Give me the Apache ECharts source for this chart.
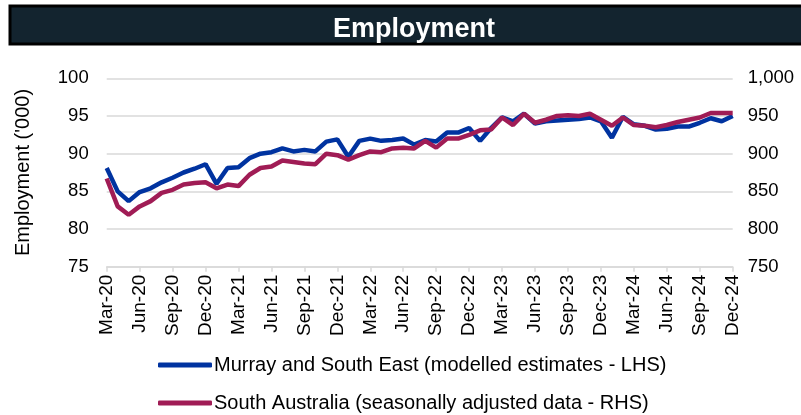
<!DOCTYPE html>
<html>
<head>
<meta charset="utf-8">
<script src="https://cdn.jsdelivr.net/npm/echarts@6/dist/echarts.min.js"></script>
<style>
html, body { margin: 0; padding: 0; background: #fff; }
#chart { width: 801px; height: 415px; }
</style>
</head>
<body>
<div id="chart"></div>
<script>
// months Mar-20 .. Dec-24
var monthNames = ['Jan', 'Feb', 'Mar', 'Apr', 'May', 'Jun', 'Jul', 'Aug', 'Sep', 'Oct', 'Nov', 'Dec'];
var categories = [];
for (var y = 20; y <= 24; y++) {
    for (var m = 0; m < 12; m++) {
        if (y === 20 && m < 2) continue;
        categories.push(monthNames[m] + '-' + y);
    }
}

// Murray and South East, '000 (LHS)
var murraySE = [
    88.1, 85.0, 83.7, 84.9, 85.4, 86.2, 86.8, 87.5, 88.0, 88.6,
    86.0, 88.1, 88.2, 89.4, 90.0, 90.2, 90.7, 90.3, 90.5, 90.3,
    91.6, 91.9, 89.6, 91.7, 92.0, 91.7, 91.8, 92.0, 91.2, 91.8,
    91.6, 92.8, 92.8, 93.4, 91.7, 93.4, 94.8, 94.3, 95.3, 94.0,
    94.3, 94.4, 94.5, 94.6, 94.8, 94.3, 92.1, 94.9, 93.9, 93.7,
    93.2, 93.3, 93.6, 93.6, 94.1, 94.7, 94.3, 95.0
];

// South Australia, '000 (RHS)
var southAus = [
    867, 830, 819, 830, 837, 848, 852, 859, 861, 862,
    854, 859, 857, 872, 881, 883, 891, 889, 887, 886,
    900, 898, 892, 898, 903, 902, 907, 908, 907, 917,
    908, 920, 920, 925, 931, 932, 948, 938, 953, 941,
    945, 950, 951, 950, 953, 945, 937, 948, 938, 937,
    935, 938, 942, 945, 948, 954, 954, 954
];

var leftTicks = { min: 75, max: 100, step: 5 };
var rightTicks = { min: 750, max: 1000, step: 50 };

var chart = echarts.init(document.getElementById('chart'));

var font = 'Liberation Sans, Arial, sans-serif';

chart.setOption({
    animation: false,
    textStyle: { fontFamily: font },
    graphic: [{
        type: 'rect',
        shape: { x: 10, y: 6, width: 795, height: 38 },
        style: { fill: '#13242f', stroke: '#000', lineWidth: 3 }
    }],
    title: {
        text: 'Employment',
        left: 409,
        top: 25,
        textAlign: 'center',
        textVerticalAlign: 'middle',
        textStyle: { color: '#fff', fontSize: 27, fontWeight: 'bold', fontFamily: font }
    },
    legend: [{
        data: ['Murray and South East (modelled estimates - LHS)'],
        left: 153,
        top: 350,
        icon: 'roundRect',
        itemWidth: 54,
        itemHeight: 5,
        textStyle: { fontSize: 20, color: '#000', padding: [0, 0, 0, -3] }
    }, {
        data: ['South Australia (seasonally adjusted data - RHS)'],
        left: 153,
        top: 388,
        icon: 'roundRect',
        itemWidth: 54,
        itemHeight: 5,
        textStyle: { fontSize: 20, color: '#000', padding: [0, 0, 0, -3] }
    }],
    grid: {
        left: 106.7,
        right: 68.3,
        top: 78.3,
        bottom: 148.3,
        containLabel: false
    },
    xAxis: {
        type: 'category',
        data: categories,
        boundaryGap: false,
        axisLine: { lineStyle: { color: '#d9d9d9', width: 1.5 } },
        axisTick: { show: true, interval: 2, length: 5, lineStyle: { color: '#d9d9d9', width: 1.5 } },
        axisLabel: {
            interval: 2,
            rotate: 90,
            margin: 8,
            fontSize: 19,
            color: '#000'
        }
    },
    yAxis: [{
        type: 'value',
        min: leftTicks.min,
        max: leftTicks.max,
        interval: leftTicks.step,
        name: "Employment ('000)",
        nameLocation: 'middle',
        nameRotate: 90,
        nameGap: 73,
        nameTextStyle: { fontSize: 20, color: '#000' },
        axisLine: { show: false },
        axisTick: { show: false },
        axisLabel: { fontSize: 18.5, color: '#000', margin: 18 },
        splitLine: { lineStyle: { color: '#d9d9d9', width: 1.5 } }
    }, {
        type: 'value',
        min: rightTicks.min,
        max: rightTicks.max,
        interval: rightTicks.step,
        position: 'right',
        axisLine: { show: false },
        axisTick: { show: false },
        axisLabel: {
            fontSize: 18.5,
            color: '#000',
            margin: 15,
            formatter: function (v) { return v.toLocaleString('en-US'); }
        },
        splitLine: { show: false }
    }],
    series: [{
        name: 'South Australia (seasonally adjusted data - RHS)',
        type: 'line',
        yAxisIndex: 1,
        data: southAus,
        showSymbol: false,
        lineStyle: { color: '#a01c55', width: 4.5 },
        itemStyle: { color: '#a01c55' }
    }, {
        name: 'Murray and South East (modelled estimates - LHS)',
        type: 'line',
        yAxisIndex: 0,
        data: murraySE,
        showSymbol: false,
        lineStyle: { color: '#0033a0', width: 4.5 },
        itemStyle: { color: '#0033a0' },
        z: 1
    }]
});
</script>
</body>
</html>
